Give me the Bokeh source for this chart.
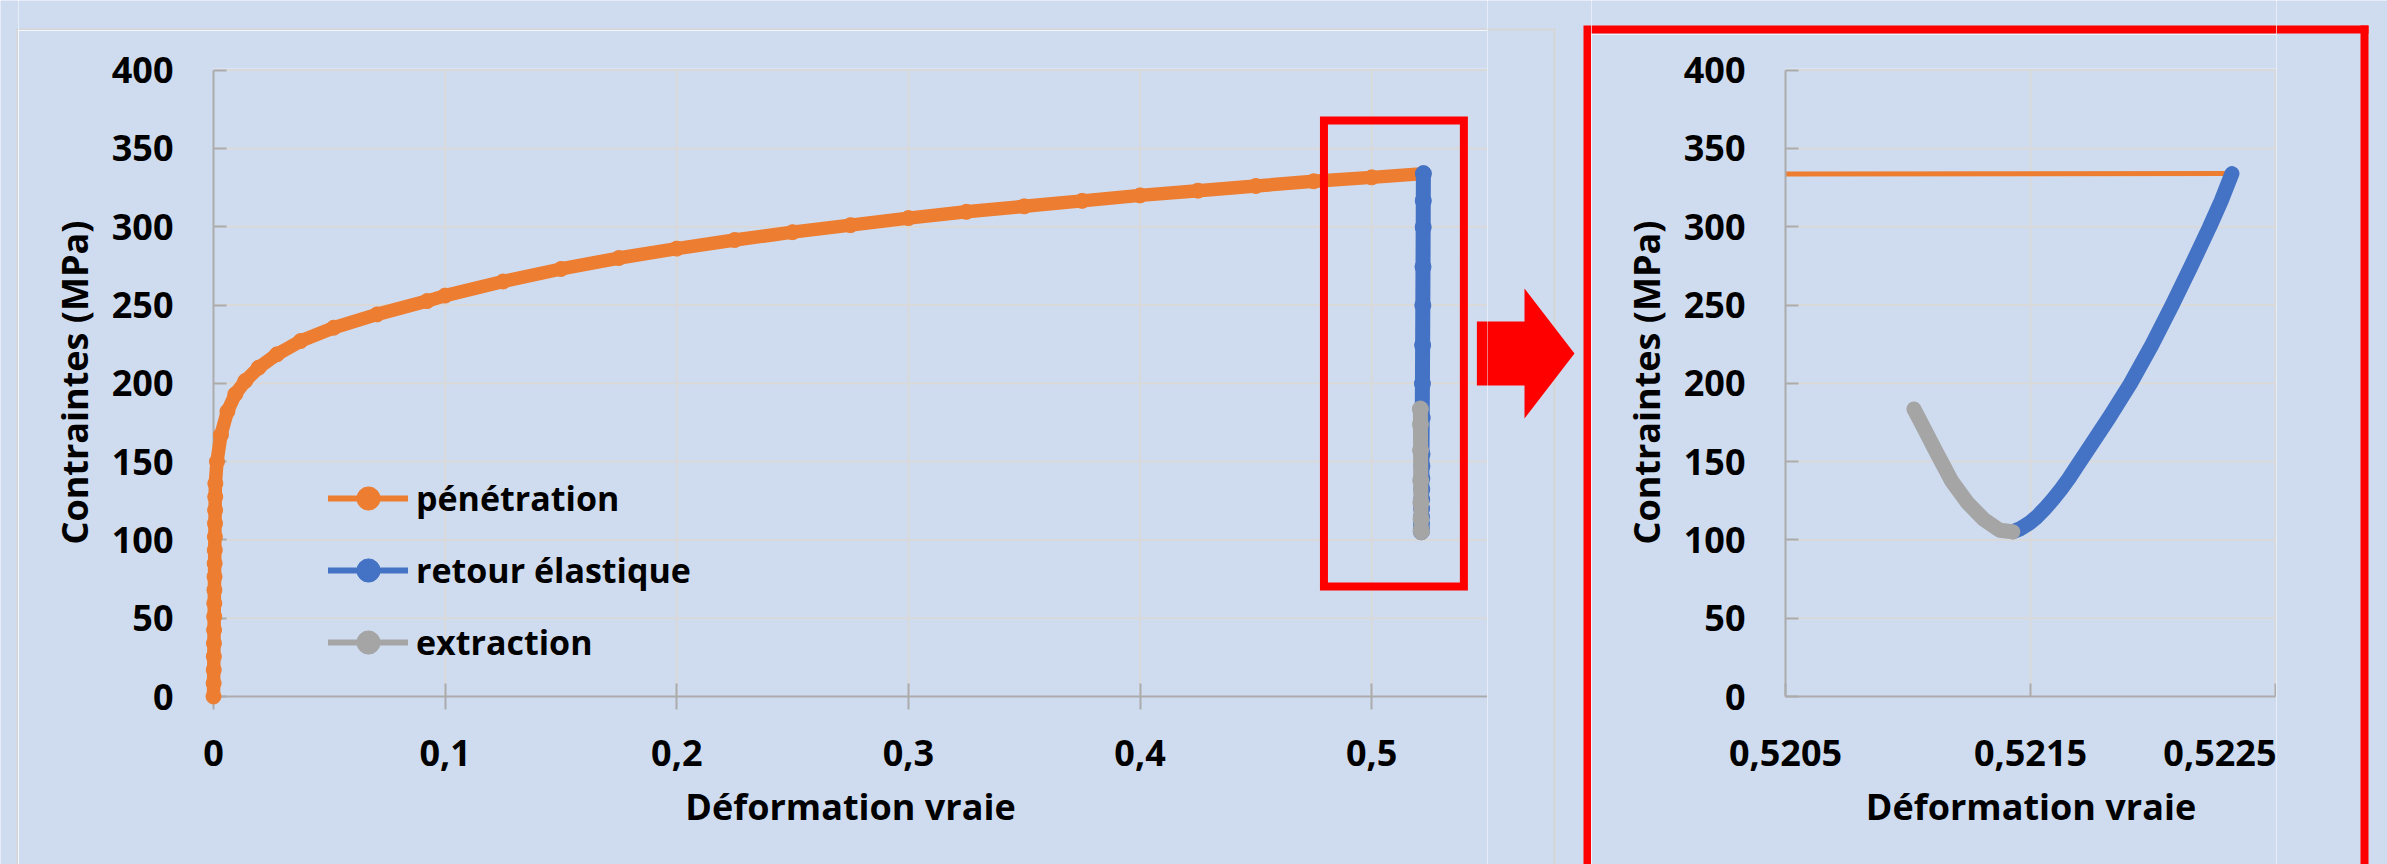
from bokeh.plotting import figure
from bokeh.models import (Range1d, FixedTicker, BoxAnnotation, Legend, LegendItem)
from bokeh.layouts import row, column
from bokeh.embed import file_html
from bokeh.resources import INLINE

# ---------------- data ----------------
pen_strain = [0.0, 0.00005, 0.0001, 0.00015, 0.0002, 0.00025, 0.0003, 0.00035,
              0.0004, 0.00045, 0.0005, 0.00055, 0.0006, 0.00065, 0.0007, 0.00075,
              0.0008, 0.0015, 0.0032, 0.006, 0.0094, 0.0137, 0.0195, 0.0274,
              0.0376, 0.0519, 0.0706, 0.0922, 0.1, 0.125, 0.15, 0.175, 0.2,
              0.225, 0.25, 0.275, 0.3, 0.325, 0.35, 0.375, 0.4, 0.425, 0.45,
              0.475, 0.5, 0.5223222]
pen_stress = [0, 8.5, 17, 25.5, 34, 42.5, 51, 59.5, 68, 76.5, 85, 93.5, 102,
              110.5, 119, 127.5, 136, 150, 167, 182, 193, 201.5, 210, 218.5,
              227, 235.5, 244, 252.5, 256, 265, 273, 280, 286, 291.5, 296.5,
              301, 305.5, 309.5, 313, 316.5, 320, 323, 326, 329, 331.5, 333.9]

ret_strain = [0.5223222, 0.5222786, 0.5222306, 0.5221543, 0.5220779, 0.5219950,
              0.5219078, 0.5218205, 0.5217223, 0.5216896, 0.5216569, 0.5216242,
              0.5215915, 0.5215587, 0.5215260, 0.5214933, 0.5214606, 0.5214278]
ret_stress = [333.9, 316.6, 299.7, 274.4, 249.8, 224.4, 199.8, 178.0, 154.8,
              147.1, 139.3, 132.3, 125.9, 120.0, 114.7, 110.5, 107.3, 105.2]

ext_strain = [0.5214278, 0.5213733, 0.5213078, 0.5212425, 0.5211770, 0.5211115,
              0.5210570, 0.5210242]
ext_stress = [105.2, 106.2, 113.3, 123.8, 137.9, 157.3, 173.8, 183.6]

y_ticks = [0, 50, 100, 150, 200, 250, 300, 350, 400]
x_ticks_main = [0, 0.1, 0.2, 0.3, 0.4, 0.5]
x_labels_main = ["0", "0,1", "0,2", "0,3", "0,4", "0,5"]
x_ticks_zoom = [0.5205, 0.5215, 0.5225]
x_labels_zoom = ["0,5205", "0,5215", "0,5225"]
x_main_max = 0.55
x_title = "Déformation vraie"
y_title = "Contraintes (MPa)"
legend_labels = ["pénétration", "retour élastique", "extraction"]

# ---------------- styles ----------------
BG = "#CFDCEF"
ORANGE = "#ED7D31"
BLUE = "#4472C4"
GREY = "#A5A5A5"
RED = "#FF0000"
AXIS = "#ABABAB"
GRID = "#D9D9D9"
BORDER = "#D6D6D6"
FONT = "Open Sans"
TXT = "36px"

PX_Y = 1.566          # px per MPa
PX_XL = 2317.5        # px per unit strain, main chart
PX_XR = 245000.0      # px per unit strain, zoom chart
H = 864
FT, FB = 68, 696      # frame top / bottom (page px) for both charts


def style_axes(p, xticks, xlabels, tick_out, x_standoff, x_title_standoff):
    xa = p.xaxis[0]
    ya = p.yaxis[0]
    xa.ticker = FixedTicker(ticks=xticks)
    xa.major_label_overrides = {t: l for t, l in zip(xticks, xlabels)}
    xa.major_tick_in = 13
    xa.major_tick_out = tick_out
    xa.major_label_standoff = x_standoff
    ya.ticker = FixedTicker(ticks=y_ticks)
    ya.bounds = (0, 400)
    ya.major_tick_in = 13
    ya.major_tick_out = 0
    ya.major_label_standoff = 40
    xa.axis_label = x_title
    ya.axis_label = y_title
    xa.axis_label_standoff = x_title_standoff
    ya.axis_label_standoff = 10
    for a in (xa, ya):
        a.axis_line_color = AXIS
        a.axis_line_width = 2
        a.major_tick_line_color = AXIS
        a.major_tick_line_width = 2
        a.minor_tick_line_color = None
        a.major_label_text_font = FONT
        a.major_label_text_font_style = "bold"
        a.major_label_text_font_size = TXT
        a.major_label_text_color = "#000000"
        a.axis_label_text_font = FONT
        a.axis_label_text_font_style = "bold"
        a.axis_label_text_font_size = TXT
        a.axis_label_text_color = "#000000"
    p.grid.visible = False


def chart_fig(x0, x1, y0, frame_left, xr):
    """Chart whose canvas covers page x0..x1, y0..H; frame left at frame_left."""
    p = figure(width=x1 - x0, height=H - y0, x_range=xr,
               y_range=Range1d(0, (FB - FT) / PX_Y), toolbar_location=None,
               output_backend="svg", min_border_left=frame_left - x0,
               min_border_bottom=H - FB, min_border_right=0,
               min_border_top=FT - y0, frame_align=False)
    p.background_fill_color = BG
    p.border_fill_color = BG
    p.outline_line_color = None
    return p


def deco_fig(x0, x1, y0, y1):
    """Plain panel whose data coordinates are page pixels (y downwards)."""
    p = figure(width=x1 - x0, height=y1 - y0, x_range=Range1d(x0, x1),
               y_range=Range1d(y1, y0), x_axis_type=None, y_axis_type=None,
               toolbar_location=None, output_backend="svg", min_border=0,
               frame_align=False)
    p.background_fill_color = BG
    p.border_fill_color = BG
    p.outline_line_color = None
    return p


arrow_xs = [1477, 1524, 1524, 1574, 1524, 1524, 1477]
arrow_ys = [321, 321, 288, 353, 418, 385, 385]

# ---------------- main chart (page x 18..1487) ----------------
L_FL = 213
left = chart_fig(18, 1487, 30, L_FL, Range1d(0, x_main_max))
style_axes(left, x_ticks_main, x_labels_main, 13, 30, 13)
left.xaxis[0].bounds = (0, x_main_max)


def lx(px):
    return (px - L_FL) / PX_XL


def py2v(py):
    return (FB - py) / PX_Y


left.segment(x0=0, x1=x_main_max, y0=y_ticks[1:], y1=y_ticks[1:], line_color=GRID, line_width=2)
left.segment(x0=x_ticks_main[1:], x1=x_ticks_main[1:], y0=0, y1=400, line_color=GRID, line_width=2)

TOP = "annotation"    # series drawn above the axis lines, as in the reference
left.line(pen_strain, pen_stress, line_color=ORANGE, line_width=13.5, line_join="round", level=TOP)
left.scatter(pen_strain, pen_stress, size=15, color=ORANGE, level=TOP)
left.line(ret_strain, ret_stress, line_color=BLUE, line_width=15, line_cap="round",
          line_join="round", level=TOP)
left.scatter(ret_strain, ret_stress, size=16, color=BLUE, level=TOP)
left.line(ext_strain, ext_stress, line_color=GREY, line_width=15, line_cap="round",
          line_join="round", level=TOP)
left.scatter(ext_strain, ext_stress, size=16, color=GREY, level=TOP)

items = []
for lab, col in zip(legend_labels, [ORANGE, BLUE, GREY]):
    r1 = left.line([-1, -0.9], [-50, -50], line_color=col, line_width=6, line_cap="round")
    r2 = left.scatter([-1], [-50], size=23, color=col)
    items.append(LegendItem(label=lab, renderers=[r1, r2]))
legend = Legend(items=items, location=(328 - L_FL, FB - 671), glyph_width=80,
                glyph_height=58, spacing=14, padding=0, margin=0, label_standoff=8,
                label_text_font=FONT, label_text_font_style="bold",
                label_text_font_size="34px", label_text_color="#000000",
                background_fill_alpha=0, border_line_alpha=0)
left.add_layout(legend)

left.patch([lx(v) for v in arrow_xs], [py2v(v) for v in arrow_ys], fill_color=RED, line_color=None)
left.add_layout(BoxAnnotation(left=lx(1324), right=lx(1464), top=py2v(120), bottom=py2v(586),
                              fill_alpha=0, line_color=RED, line_alpha=1, line_width=8,
                              line_join="miter"))

# ---------------- zoom chart (page x 1591..2276) ----------------
R_FL = 1785
right = chart_fig(1591, 2276, 34, R_FL,
                  Range1d(0.5205, 0.5205 + (2276 - R_FL) / PX_XR))
style_axes(right, x_ticks_zoom, x_labels_zoom, 0, 43, 13)
right.xaxis[0].bounds = (x_ticks_zoom[0], x_ticks_zoom[-1])

right.segment(x0=x_ticks_zoom[0], x1=x_ticks_zoom[-1], y0=y_ticks[1:], y1=y_ticks[1:],
              line_color=GRID, line_width=2)
right.segment(x0=x_ticks_zoom[1:], x1=x_ticks_zoom[1:], y0=0, y1=400, line_color=GRID, line_width=2)

right.line(pen_strain, pen_stress, line_color=ORANGE, line_width=5)
right.line(ret_strain, ret_stress, line_color=BLUE, line_width=15, line_cap="round", line_join="round")
right.line(ext_strain, ext_stress, line_color=GREY, line_width=15, line_cap="round", line_join="round")

# ---------------- decoration panels ----------------
a_fig = deco_fig(0, 18, 0, H)                       # left edge of chart-area border
a_fig.quad(left=16, right=18, top=28, bottom=H, fill_color=BORDER, line_color=None)

b_top = deco_fig(18, 1487, 0, 30)                   # top of chart-area border
b_top.quad(left=18, right=1487, top=28, bottom=30, fill_color=BORDER, line_color=None)

c_fig = deco_fig(1487, 1591, 0, H)                  # border corner, arrow, big box left side
c_fig.quad(left=[1487, 1553], right=[1555, 1555], top=[28, 28], bottom=[30, H],
           fill_color=BORDER, line_color=None)
c_fig.patch(arrow_xs, arrow_ys, fill_color=RED, line_color=None)
c_fig.quad(left=1583, right=1591, top=25, bottom=H, fill_color=RED, line_color=None)

d_top = deco_fig(1591, 2276, 0, 34)                 # big box top side
d_top.quad(left=1591, right=2276, top=25, bottom=33, fill_color=RED, line_color=None)

e_fig = deco_fig(2276, 2387, 0, H)                  # big box top-right corner and right side
e_fig.quad(left=[2276, 2360], right=[2368, 2368], top=[25, 25], bottom=[33, H],
           fill_color=RED, line_color=None)

layout = row(a_fig, column(b_top, left), c_fig, column(d_top, right), e_fig)
open("out.html", "w").write(file_html(layout, INLINE))
